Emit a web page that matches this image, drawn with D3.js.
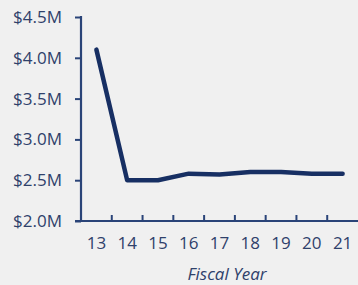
<!DOCTYPE html>
<html>
<head>
<meta charset="utf-8">
<script src="https://cdn.jsdelivr.net/npm/d3@7"></script>
<style>
  html, body { margin: 0; padding: 0; background: #f0f0f0; }
  svg { display: block; }
  text { font-family: "Open Sans", "Noto Sans", sans-serif; fill: #2f416b; }
</style>
</head>
<body>
<div id="chart"></div>
<script>
// data
const years = ["13", "14", "15", "16", "17", "18", "19", "20", "21"];
const amounts = [4.1, 2.5, 2.5, 2.58, 2.57, 2.6, 2.6, 2.58, 2.58]; // $M
const yTicks = [2.0, 2.5, 3.0, 3.5, 4.0, 4.5];
const xTitle = "Fiscal Year";

const width = 358, height = 285;
const margin = { top: 17, right: 0, bottom: 64, left: 81 };

const axisColor = "#2a4478";
const lineColor = "#172f63";
const textColor = "#2f416b";

const svg = d3.select("#chart").append("svg")
    .attr("width", width)
    .attr("height", height);

const x = d3.scaleBand()
    .domain(years)
    .range([margin.left, width - margin.right])
    .padding(0);

const y = d3.scaleLinear()
    .domain([2.0, 4.5])
    .range([height - margin.bottom, margin.top]);

// y axis
const yAxis = svg.append("g")
    .attr("transform", `translate(${margin.left},0)`)
    .call(d3.axisLeft(y)
        .tickValues(yTicks)
        .tickSize(6)
        .tickPadding(13)
        .tickFormat(d => "$" + d.toFixed(1) + "M"));
yAxis.select(".domain").remove();
yAxis.selectAll("line").attr("stroke", axisColor).attr("stroke-width", 2);
yAxis.selectAll("text").style("font-size", "17px").attr("fill", textColor);

svg.append("line")
    .attr("x1", margin.left).attr("x2", margin.left)
    .attr("y1", y(4.5) - 1).attr("y2", y(2.0))
    .attr("stroke", axisColor).attr("stroke-width", 2.2);

// x axis
const xAxis = svg.append("g")
    .attr("transform", `translate(0,${y(2.0)})`)
    .call(d3.axisBottom(x).tickSize(0).tickPadding(16));
xAxis.select(".domain").remove();
xAxis.selectAll("text").style("font-size", "17px").attr("fill", textColor);

svg.append("line")
    .attr("x1", margin.left - 6).attr("x2", width)
    .attr("y1", y(2.0)).attr("y2", y(2.0))
    .attr("stroke", axisColor).attr("stroke-width", 2.2);

// small ticks between the year bands
svg.append("g").selectAll("line")
    .data(years.slice(1))
    .enter()
    .append("line")
    .attr("x1", d => x(d)).attr("x2", d => x(d))
    .attr("y1", y(2.0)).attr("y2", y(2.0) - 6)
    .attr("stroke", axisColor).attr("stroke-width", 2);

svg.append("text")
    .attr("x", 227)
    .attr("y", 280)
    .attr("text-anchor", "middle")
    .style("font-size", "17px")
    .style("font-style", "italic")
    .text(xTitle);

// the line
const line = d3.line()
    .x((d, i) => x(years[i]) + x.bandwidth() / 2)
    .y(d => y(d));

svg.append("path")
    .datum(amounts)
    .attr("d", line)
    .attr("fill", "none")
    .attr("stroke", lineColor)
    .attr("stroke-width", 4.5)
    .attr("stroke-linejoin", "round")
    .attr("stroke-linecap", "round");
</script>
</body>
</html>
